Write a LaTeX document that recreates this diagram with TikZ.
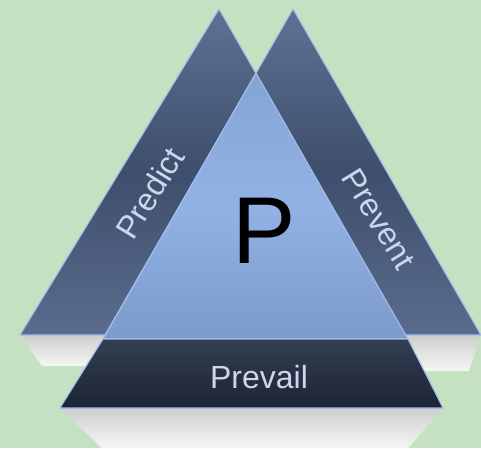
\documentclass[tikz,border=0pt]{standalone}
\usepackage{fontspec}
\setmainfont{Liberation Sans}
\definecolor{bggreen}{RGB}{196,226,194}
\definecolor{sidetop}{RGB}{94,114,148}
\definecolor{sidemid}{RGB}{62,78,108}
\definecolor{sidebot}{RGB}{90,108,142}
\definecolor{coretop}{RGB}{132,164,212}
\definecolor{coremid}{RGB}{146,178,230}
\definecolor{corebot}{RGB}{124,154,202}
\definecolor{basetop}{RGB}{52,62,82}
\definecolor{basebot}{RGB}{28,36,52}
\definecolor{rimblue}{RGB}{160,190,236}
\definecolor{labelgray}{RGB}{205,214,235}
\definecolor{shadetop}{RGB}{206,206,206}
\definecolor{shadebot}{RGB}{246,246,246}
\begin{document}
\begin{tikzpicture}[x=1pt,y=-1pt,inner sep=0pt,outer sep=0pt,
rim/.style={draw=rimblue,line width=1.1pt,line join=round},
sideface/.style={rim,top color=sidetop,bottom color=sidebot,middle color=sidemid},
coreface/.style={rim,top color=coretop,bottom color=corebot,middle color=coremid},
baseface/.style={rim,top color=basetop,bottom color=basebot},
reflect/.style={top color=shadetop,bottom color=shadebot},
sidelabel/.style={text=labelgray,font=\fontsize{32}{32}\selectfont}]
\useasboundingbox (0,0) rectangle (481,448);
\clip (0,0) rectangle (481,448);
\fill[bggreen] (0,0) rectangle (481,448);

% corners
\coordinate (predtop) at (219,9);
\coordinate (predleft) at (20,335);
\coordinate (predright) at (406,335);
\coordinate (prevtop) at (293,9);
\coordinate (prevleft) at (105,335);
\coordinate (prevright) at (481,335);
\coordinate (coretop) at (256,73);
\coordinate (coreleft) at (103,339);
\coordinate (coreright) at (408,339);
\coordinate (baseleft) at (60,408);
\coordinate (baseright) at (443,408);

% reflections
\shade[reflect] (predleft) -- (42,366) -- (108,366) -- (108,335) -- cycle;
\shade[reflect] (prevright) -- (469,371) -- (400,371) -- (400,335) -- cycle;
\shade[reflect] (baseleft) -- (102,448) -- (408,448) -- (baseright) -- cycle;

% faces
\draw[sideface] (predtop) -- (predleft) -- (predright) -- cycle;
\draw[sideface] (prevtop) -- (prevleft) -- (prevright) -- cycle;
\draw[coreface] (coretop) -- (coreleft) -- (coreright) -- cycle;
\draw[baseface] (coreleft) -- (coreright) -- (baseright) -- (baseleft) -- cycle;

\node[sidelabel,rotate=58.5] (predict) at (150,193) {Predict};
\node[sidelabel,rotate=-58.5] (prevent) at (379,219) {Prevent};
\node[sidelabel] (prevail) at (259,377) {Prevail};
\node[font=\fontsize{95}{95}\selectfont] (core) at (264,231) {P};

\end{tikzpicture}
\end{document}
